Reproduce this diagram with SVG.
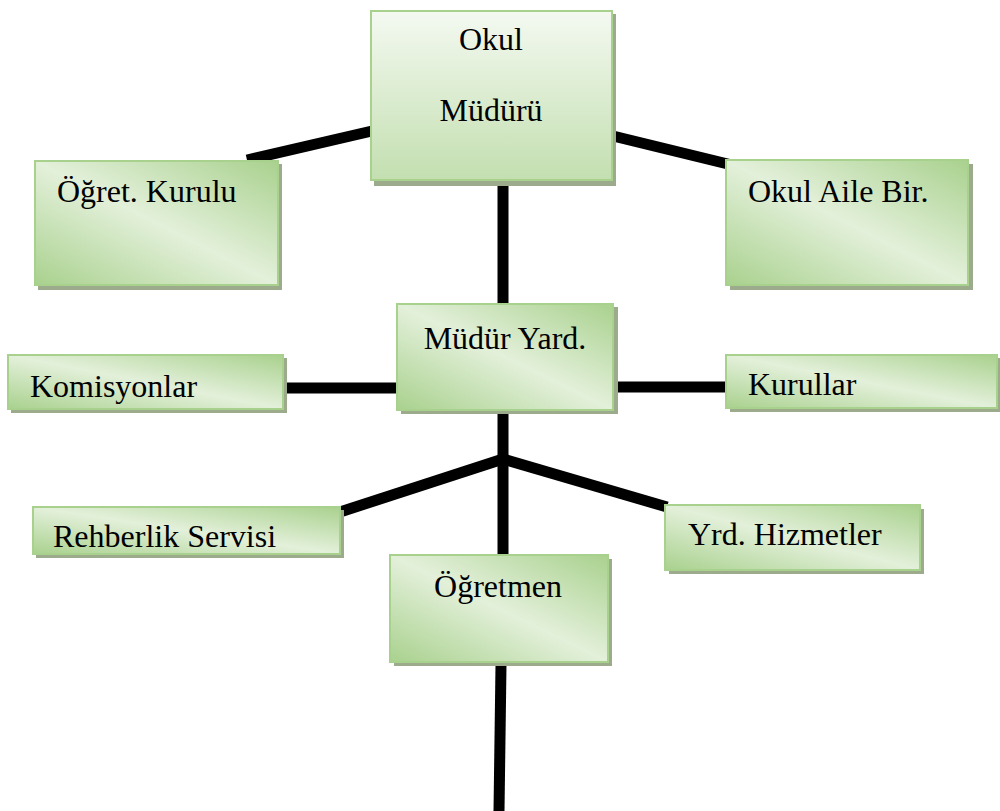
<svg xmlns="http://www.w3.org/2000/svg" width="1000" height="811" viewBox="0 0 1000 811">
<defs>
<linearGradient id="gd" x1="0" y1="1" x2="1" y2="0">
<stop offset="0" stop-color="#a9d18e"/>
<stop offset="0.5" stop-color="#e3f0da"/>
<stop offset="1" stop-color="#a9d18e"/>
</linearGradient>
<linearGradient id="gv" x1="0" y1="0" x2="0" y2="1">
<stop offset="0" stop-color="#f4f9f1"/>
<stop offset="1" stop-color="#c3dfb0"/>
</linearGradient>
<style>
.shadow{fill:#9cab8c}
.box{fill:url(#gd);stroke:#a9d18e;stroke-width:2}
.boxv{fill:url(#gv);stroke:#a9d18e;stroke-width:2}
.t{font-family:"Liberation Serif","Times New Roman",serif;font-size:32px;fill:#000}
.c{stroke:#000;stroke-width:11;fill:none}
</style>
</defs>
<g id="connectors">
<line class="c" x1="503" y1="180" x2="503" y2="304"/>
<line class="c" x1="372" y1="131" x2="247" y2="160"/>
<line class="c" x1="613" y1="136" x2="736" y2="166"/>
<line class="c" x1="283" y1="388" x2="397" y2="388"/>
<line class="c" x1="614" y1="387" x2="728" y2="387"/>
<line class="c" x1="503" y1="410" x2="503" y2="556"/>
<line class="c" x1="503" y1="459" x2="340" y2="512"/>
<line class="c" x1="503" y1="459" x2="667" y2="507"/>
<line class="c" x1="501" y1="665" x2="499" y2="811"/>
</g>
<g id="okul-muduru">
<rect class="shadow" x="374" y="14" width="242" height="172"/>
<rect class="boxv" x="371" y="11" width="241" height="169"/>
<text class="t" x="491" y="50" text-anchor="middle">Okul</text>
<text class="t" x="491" y="121" text-anchor="middle">Müdürü</text>
</g>
<g id="ogret-kurulu">
<rect class="shadow" x="38" y="164" width="244" height="126"/>
<rect class="box" x="35" y="161" width="243" height="124"/>
<text class="t" x="57" y="202">Öğret. Kurulu</text>
</g>
<g id="okul-aile-bir">
<rect class="shadow" x="730" y="164" width="243" height="126"/>
<rect class="box" x="726" y="160" width="242" height="125"/>
<text class="t" x="748" y="202">Okul Aile Bir.</text>
</g>
<g id="mudur-yard">
<rect class="shadow" x="401" y="307" width="217" height="107"/>
<rect class="box" x="397" y="304" width="216" height="106"/>
<text class="t" x="505" y="349" text-anchor="middle">Müdür Yard.</text>
</g>
<g id="komisyonlar">
<rect class="shadow" x="11" y="358" width="276" height="55"/>
<rect class="box" x="8" y="355" width="275" height="54"/>
<text class="t" x="30" y="397">Komisyonlar</text>
</g>
<g id="kurullar">
<rect class="shadow" x="730" y="358" width="272" height="54"/>
<rect class="box" x="726" y="355" width="271" height="53"/>
<text class="t" x="748" y="395">Kurullar</text>
</g>
<g id="rehberlik-servisi">
<rect class="shadow" x="36" y="510" width="308" height="48"/>
<rect class="box" x="33" y="507" width="307" height="47"/>
<text class="t" x="53" y="547">Rehberlik Servisi</text>
</g>
<g id="yrd-hizmetler">
<rect class="shadow" x="669" y="509" width="255" height="65"/>
<rect class="box" x="665" y="505" width="255" height="65"/>
<text class="t" x="688" y="545">Yrd. Hizmetler</text>
</g>
<g id="ogretmen">
<rect class="shadow" x="394" y="559" width="218" height="107"/>
<rect class="box" x="390" y="555" width="218" height="107"/>
<text class="t" x="498" y="597" text-anchor="middle">Öğretmen</text>
</g>
</svg>
